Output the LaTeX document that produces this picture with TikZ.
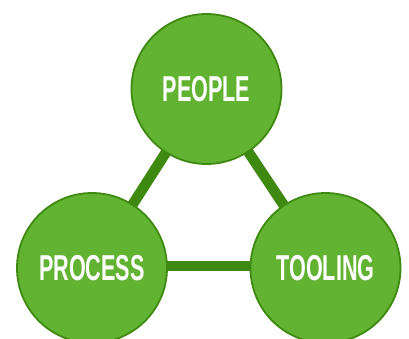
\documentclass[tikz,border=0pt]{standalone}
\usepackage{fontspec}
\newfontfamily\labfont{Liberation Sans}[FakeStretch=0.6]
\definecolor{fillg}{HTML}{63B333}
\definecolor{lineg}{HTML}{3E8A10}
\begin{document}
\begin{tikzpicture}[x=1pt,y=-1pt,
  hub/.style={circle,draw=lineg,line width=1.8pt,fill=fillg,minimum size=150pt,inner sep=0pt,
    text=white,font=\labfont\bfseries\fontsize{36}{36}\selectfont},
  link/.style={draw=lineg,line width=10.5pt}]
\useasboundingbox (0,0) rectangle (409,338);
\begin{scope}
\clip (0,0) rectangle (409,338);
\coordinate (pc) at (206.5,89);
\coordinate (rc) at (92,268);
\coordinate (tc) at (325.5,268);
\draw[link] (pc) -- (rc);
\draw[link] (pc) -- (tc);
\draw[link] ([yshift=2pt]rc) -- ([yshift=2pt]tc);
\node[hub] (people) at (pc) {PEOPLE};
\node[hub] (process) at (rc) {PROCESS};
\node[hub] (tooling) at (tc) {TOOLING};
\end{scope}
\end{tikzpicture}
\end{document}
